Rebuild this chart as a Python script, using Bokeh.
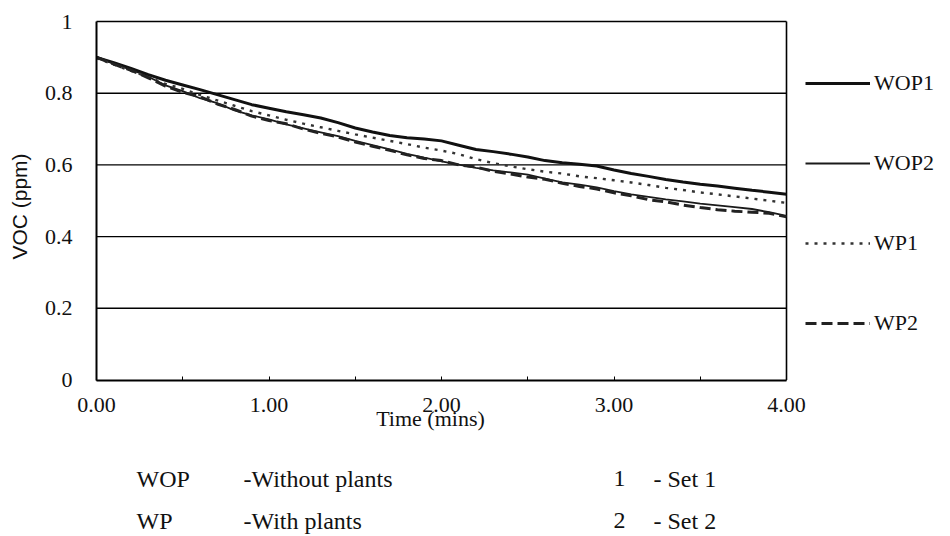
import math
from bokeh.plotting import figure
from bokeh.models import Range1d, FixedTicker, Legend, LegendItem, Label
from bokeh.embed import file_html
from bokeh.resources import INLINE

# ---------------- data ----------------
time_min = [0.0, 0.1, 0.2, 0.3, 0.4, 0.5, 0.6, 0.7, 0.8, 0.9,
            1.0, 1.1, 1.2, 1.3, 1.4, 1.5, 1.6, 1.7, 1.8, 1.9,
            2.0, 2.1, 2.2, 2.3, 2.4, 2.5, 2.6, 2.7, 2.8, 2.9,
            3.0, 3.1, 3.2, 3.3, 3.4, 3.5, 3.6, 3.7, 3.8, 3.9, 4.0]

wop1 = [0.900, 0.885, 0.869, 0.852, 0.836, 0.823, 0.810, 0.796, 0.782, 0.768,
        0.758, 0.748, 0.740, 0.731, 0.718, 0.703, 0.692, 0.682, 0.676, 0.672,
        0.667, 0.655, 0.643, 0.637, 0.630, 0.622, 0.612, 0.606, 0.602, 0.597,
        0.586, 0.576, 0.568, 0.559, 0.552, 0.546, 0.541, 0.535, 0.529, 0.524, 0.518]

wop2 = [0.902, 0.882, 0.866, 0.846, 0.822, 0.806, 0.786, 0.772, 0.752, 0.738,
        0.727, 0.713, 0.702, 0.691, 0.680, 0.667, 0.655, 0.643, 0.631, 0.620,
        0.610, 0.601, 0.592, 0.585, 0.579, 0.573, 0.562, 0.551, 0.545, 0.537,
        0.527, 0.518, 0.511, 0.504, 0.498, 0.492, 0.487, 0.482, 0.477, 0.468, 0.458]

wp1 = [0.898, 0.880, 0.862, 0.845, 0.826, 0.812, 0.795, 0.780, 0.765, 0.750,
       0.738, 0.726, 0.715, 0.705, 0.695, 0.685, 0.676, 0.667, 0.658, 0.648,
       0.640, 0.630, 0.616, 0.605, 0.596, 0.588, 0.581, 0.576, 0.568, 0.563,
       0.557, 0.551, 0.544, 0.536, 0.530, 0.523, 0.518, 0.512, 0.506, 0.500, 0.494]

wp2 = [0.900, 0.881, 0.864, 0.843, 0.820, 0.802, 0.790, 0.770, 0.755, 0.736,
       0.724, 0.715, 0.700, 0.688, 0.678, 0.664, 0.652, 0.641, 0.628, 0.618,
       0.612, 0.600, 0.594, 0.582, 0.575, 0.566, 0.560, 0.549, 0.540, 0.533,
       0.522, 0.514, 0.503, 0.497, 0.488, 0.481, 0.475, 0.471, 0.468, 0.465, 0.455]

series_names = ["WOP1", "WOP2", "WP1", "WP2"]

x_ticks = [0, 1, 2, 3, 4]
x_minor_ticks = [0.5, 1.5, 2.5, 3.5]
x_tick_labels = ["0.00", "1.00", "2.00", "3.00", "4.00"]
y_ticks = [0, 0.2, 0.4, 0.6, 0.8, 1]
y_tick_labels = ["0", "0.2", "0.4", "0.6", "0.8", "1"]

x_title = "Time (mins)"
y_title = "VOC (ppm)"
note_rows = [("WOP", "-Without plants", "1", "- Set 1"),
             ("WP", "-With plants", "2", "- Set 2")]

# ---------------- layout (canvas pixels -> data) ----------------
W, H = 946, 534
FRAME_L, FRAME_R = 96.0, 786.0     # canvas x of t=0 and t=4
FRAME_T, FRAME_B = 21.0, 379.5     # canvas y of v=1 and v=0
sx = (x_ticks[-1] - x_ticks[0]) / (FRAME_R - FRAME_L)
sy = (y_ticks[-1] - y_ticks[0]) / (FRAME_B - FRAME_T)


def px(xp):
    return x_ticks[0] + (xp - FRAME_L) * sx


def py(yp):
    return y_ticks[0] + (FRAME_B - yp) * sy


SERIF = "Liberation Serif"
SANS = "Liberation Sans"
INK = "#111111"

p = figure(width=W, height=H, output_backend="svg", toolbar_location=None,
           x_range=Range1d(px(0), px(W)), y_range=Range1d(py(H), py(0)),
           min_border=0, min_border_left=0, min_border_right=0,
           min_border_top=0, min_border_bottom=0)
p.outline_line_color = None
p.background_fill_color = "white"
p.border_fill_color = "white"
p.xgrid.visible = False
p.ygrid.visible = False

# axes drawn at the data origin, limited to the plot box
p.xaxis.fixed_location = y_ticks[0]
p.xaxis.bounds = (x_ticks[0], x_ticks[-1])
p.xaxis.ticker = FixedTicker(ticks=x_ticks, minor_ticks=x_minor_ticks)
p.xaxis.major_label_overrides = {t: l for t, l in zip(x_ticks, x_tick_labels)}
p.xaxis.major_tick_in = 4
p.xaxis.major_tick_out = 0
p.xaxis.minor_tick_in = 4
p.xaxis.minor_tick_out = 0
p.xaxis.major_tick_line_color = "black"
p.xaxis.minor_tick_line_color = "black"
p.xaxis.major_label_standoff = 18

p.yaxis.fixed_location = x_ticks[0]
p.yaxis.bounds = (y_ticks[0], y_ticks[-1])
p.yaxis.ticker = FixedTicker(ticks=y_ticks)
p.yaxis.major_label_overrides = {t: l for t, l in zip(y_ticks, y_tick_labels)}
p.yaxis.major_tick_line_color = None
p.yaxis.minor_tick_line_color = None
p.yaxis.major_label_standoff = 18

for ax in (p.xaxis, p.yaxis):
    ax.axis_line_color = "black"
    ax.axis_line_width = 2
    ax.major_label_text_font = SERIF
    ax.major_label_text_font_size = "22px"
    ax.major_label_text_color = INK

# horizontal grid lines (incl. top border) and right border
p.segment(x0=x_ticks[0], x1=x_ticks[-1], y0=y_ticks[1:], y1=y_ticks[1:],
          line_color="black", line_width=1.4)
p.segment(x0=[x_ticks[-1]], x1=[x_ticks[-1]], y0=[y_ticks[0]], y1=[y_ticks[-1]],
          line_color="black", line_width=1.6)

# series
r1 = p.line(time_min, wop1, line_color="#111111", line_width=3)
r2 = p.line(time_min, wop2, line_color="#1a1a1a", line_width=1.8)
r3 = p.line(time_min, wp1, line_color="#333333", line_width=2.4, line_dash="3 6")
r4 = p.line(time_min, wp2, line_color="#222222", line_width=3, line_dash="11 5")

legend = Legend(items=[LegendItem(label=n, renderers=[r]) for n, r in
                       zip(series_names, [r1, r2, r3, r4])],
                location=(805, H - 336), orientation="vertical",
                glyph_width=65, glyph_height=26, label_height=26,
                spacing=54, padding=0, margin=0, label_standoff=4,
                border_line_color=None, background_fill_alpha=0,
                label_text_font=SERIF, label_text_font_size="22px",
                label_text_color=INK)
p.add_layout(legend, "center")

# axis titles
p.add_layout(Label(x=px(430), y=py(418), text=x_title, text_font=SERIF,
                   text_font_size="22px", text_align="center",
                   text_baseline="middle", text_color=INK))
p.add_layout(Label(x=px(19), y=py(206), text=y_title, text_font=SANS,
                   text_font_size="21px", text_align="center",
                   text_baseline="middle", angle=math.pi / 2, text_color=INK))

# footnote rows
row_y = [478, 520]
col_x = [136, 243, 613, 653]
for row, yy in zip(note_rows, row_y):
    for xx, txt in zip(col_x, row):
        p.add_layout(Label(x=px(xx), y=py(yy), text=txt, text_font=SERIF,
                           text_font_size="24px", text_align="left",
                           text_baseline="middle", text_color=INK))

open("out.html", "w").write(file_html(p, INLINE))
